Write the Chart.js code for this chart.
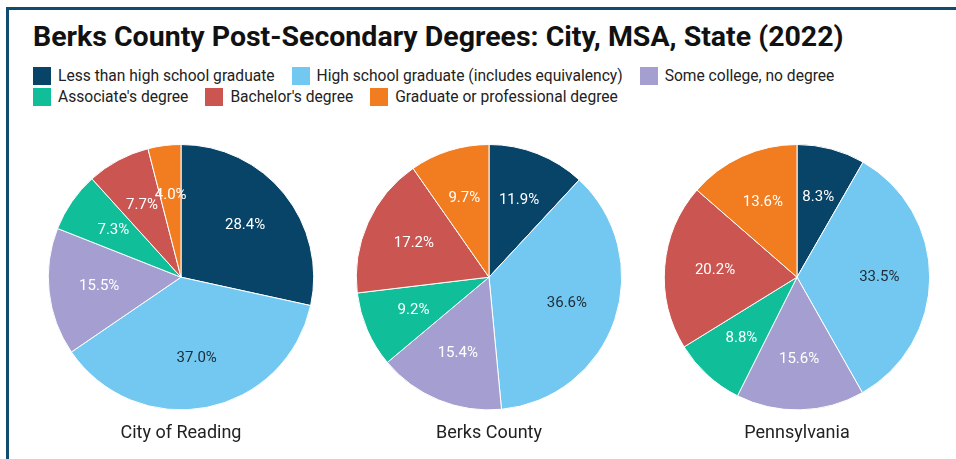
<!DOCTYPE html>
<html>
<head>
<meta charset="utf-8">
<script src="https://cdn.jsdelivr.net/npm/chart.js@4"></script>
<style>
  body { margin: 0; background: #fff; font-family: Roboto, sans-serif; overflow: hidden; }
  #frame { position: absolute; left: 6px; top: 7px; right: 0; bottom: 0;
           border-top: 3px solid #0f4c70; border-left: 3px solid #0f4c70; }
  #title { position: absolute; left: 33px; top: 20px; font-size: 28.5px; font-weight: bold; color: #111; }
  #legend { position: absolute; left: 33px; top: 66px; width: 880px; font-size: 15.6px; color: #222; line-height: 21px; }
  .item { display: inline-block; margin-right: 17px; white-space: nowrap; }
  .box { display: inline-block; width: 18px; height: 18px; vertical-align: -4px; margin-right: 7px; }
  .pie { position: absolute; top: 140px; }
</style>
</head>
<body>
<div id="frame"></div>
<div id="title">Berks County Post-Secondary Degrees: City, MSA, State (2022)</div>
<div id="legend"></div>
<canvas id="pie1" class="pie" width="300" height="318" style="left:31px"></canvas>
<canvas id="pie2" class="pie" width="300" height="318" style="left:339px"></canvas>
<canvas id="pie3" class="pie" width="300" height="318" style="left:647px"></canvas>
<script>
// categories
var categories = ["Less than high school graduate", "High school graduate (includes equivalency)",
  "Some college, no degree", "Associate's degree", "Bachelor's degree", "Graduate or professional degree"];
var places = ["City of Reading", "Berks County", "Pennsylvania"];

// percent values per place
var reading = [28.4, 37.0, 15.5, 7.3, 7.7, 4.0];
var berks = [11.9, 36.6, 15.4, 9.2, 17.2, 9.7];
var penn = [8.3, 33.5, 15.6, 8.8, 20.2, 13.6];

var colors = ["#084468", "#72c8f0", "#a59fd1", "#10bf9a", "#cb5550", "#f27d20"];
var labelColors = ["#fff", "#1d2b36", "#fff", "#fff", "#fff", "#fff"];

// legend
var leg = document.getElementById("legend");
for (let i = 0; i < categories.length; i++) {
    var it = document.createElement("span");
    it.className = "item";
    it.innerHTML = '<span class="box" style="background:' + colors[i] + '"></span>' + categories[i];
    leg.appendChild(it);
    if (i == 2) leg.appendChild(document.createElement("br"));
}

// draw % labels inside slices
const sliceLabels = {
    id: "sliceLabels",
    afterDatasetsDraw(chart) {
        const ctx = chart.ctx;
        const meta = chart.getDatasetMeta(0);
        ctx.save();
        ctx.font = "15px Roboto";
        ctx.textAlign = "center";
        ctx.textBaseline = "middle";
        meta.data.forEach(function (arc, i) {
            var mid = (arc.startAngle + arc.endAngle) / 2;
            var r = arc.outerRadius * 0.62;
            ctx.fillStyle = labelColors[i];
            ctx.fillText(chart.data.datasets[0].data[i].toFixed(1) + "%",
                arc.x + Math.cos(mid) * r, arc.y + Math.sin(mid) * r);
        });
        ctx.restore();
    }
};

function makePie(id, values, name) {
    new Chart(document.getElementById(id), {
        type: "pie",
        data: {
            labels: categories,
            datasets: [{
                data: values,
                backgroundColor: colors,
                borderColor: "#fff",
                borderWidth: 1
            }]
        },
        options: {
            responsive: false,
            animation: false,
            layout: { padding: { top: 4 } },
            plugins: {
                legend: { display: false },
                tooltip: { enabled: false },
                title: {
                    display: true,
                    position: "bottom",
                    text: name,
                    color: "#222",
                    font: { family: "Roboto", size: 18, weight: "normal" },
                    padding: { top: 12, bottom: 14 }
                }
            }
        },
        plugins: [sliceLabels]
    });
}

makePie("pie1", reading, places[0]);
makePie("pie2", berks, places[1]);
makePie("pie3", penn, places[2]);
</script>
</body>
</html>
